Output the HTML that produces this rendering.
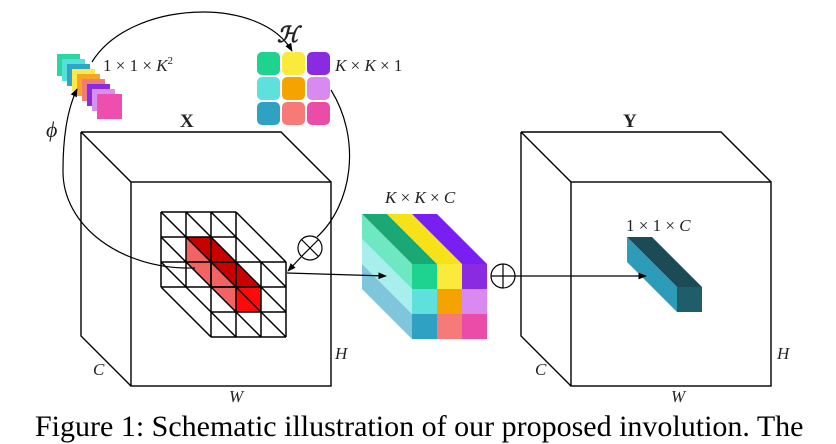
<!DOCTYPE html>
<html><head><meta charset="utf-8"><style>
body{margin:0;background:#fff;width:836px;height:444px;overflow:hidden;position:relative;font-family:"Liberation Serif",serif}
svg{position:absolute;left:0;top:0}
.cap{position:absolute;left:35px;top:410px;font-size:30px;white-space:nowrap;letter-spacing:0px}
</style></head><body>
<svg width="836" height="444" viewBox="0 0 836 444" font-family="Liberation Serif, serif">
<defs><marker id="a" viewBox="0 0 10 10" refX="9" refY="5" markerWidth="7" markerHeight="7" orient="auto"><path d="M0,1 L10,5 L0,9 z" fill="#000"/></marker></defs>
<g fill="none" stroke="#000" stroke-width="1.4">
<rect x="131" y="182" width="200" height="204"/>
<path d="M81,132 L281,132 L331,182 M81,132 L131,182 M81,132 L81,336 L131,386"/>
<rect x="571" y="182" width="200" height="204"/>
<path d="M521,132 L721,132 L771,182 M521,132 L571,182 M521,132 L521,336 L571,386"/>
</g>
<g>
<rect x="57" y="54" width="23" height="22" fill="#2bd6a0"/>
<rect x="62" y="59" width="23" height="22" fill="#55e0dc"/>
<rect x="67" y="64" width="23" height="22" fill="#2fa6c8"/>
<rect x="72" y="69" width="23" height="22" fill="#fbe84a"/>
<rect x="77" y="74" width="23" height="22" fill="#f5a623"/>
<rect x="82" y="79" width="23" height="22" fill="#f07c7a"/>
<rect x="87" y="84" width="23" height="22" fill="#8a2be2"/>
<rect x="92" y="89" width="23" height="22" fill="#d590f0"/>
<rect x="97" y="94" width="25" height="25" fill="#ee4fae"/>
</g>
<g>
<rect x="257" y="52" width="23" height="23" rx="5" fill="#1dd38f"/>
<rect x="282" y="52" width="23" height="23" rx="5" fill="#faea3c"/>
<rect x="307" y="52" width="23" height="23" rx="5" fill="#8a2be2"/>
<rect x="257" y="77" width="23" height="23" rx="5" fill="#5ee0dc"/>
<rect x="282" y="77" width="23" height="23" rx="5" fill="#f5a300"/>
<rect x="307" y="77" width="23" height="23" rx="5" fill="#d98af0"/>
<rect x="257" y="102" width="23" height="23" rx="5" fill="#2fa2c4"/>
<rect x="282" y="102" width="23" height="23" rx="5" fill="#f57a78"/>
<rect x="307" y="102" width="23" height="23" rx="5" fill="#ea4ca8"/>
</g>
<polygon points="186,237 211,237 261,287 236,287" fill="#c80000"/>
<polygon points="186,237 236,287 236,312 186,262" fill="#f26464"/>
<rect x="236" y="287" width="25" height="25" fill="#ff0a0a"/>
<g stroke="#000" stroke-width="1.5" fill="none">
<path d="M161,212 H236 M161,237 H236 M161,262 H236 M161,287 H236 M161,212 V287 M186,212 V287 M211,212 V287 M236,212 V287"/>
<path d="M211,262 H286 M211,287 H286 M211,312 H286 M211,337 H286 M211,262 V337 M236,262 V337 M261,262 V337 M286,262 V337"/>
<path d="M161,212 L211,262 M186,212 L236,262 M211,212 L261,262 M236,212 L286,262
M161,237 L211,287 M186,237 L236,287 M211,237 L261,287 M236,237 L286,287
M161,262 L211,312 M186,262 L236,312 M211,262 L261,312 M236,262 L286,312
M161,287 L211,337 M186,287 L236,337 M211,287 L261,337 M236,287 L286,337"/>
</g>
<g>
<polygon points="362,214 387,214 437,264 412,264" fill="#1aa874"/>
<polygon points="387,214 412,214 462,264 437,264" fill="#f7e21a"/>
<polygon points="412,214 437,214 487,264 462,264" fill="#7a1ff2"/>
<polygon points="362,214 412,264 412,289 362,239" fill="#6ee8c2"/>
<polygon points="362,239 412,289 412,314 362,264" fill="#a8eeec"/>
<polygon points="362,264 412,314 412,339 362,289" fill="#7fc6dc"/>
<rect x="412" y="264" width="25" height="25" fill="#1dd38f"/>
<rect x="437" y="264" width="25" height="25" fill="#faea3c"/>
<rect x="462" y="264" width="25" height="25" fill="#8a2be2"/>
<rect x="412" y="289" width="25" height="25" fill="#5ee0dc"/>
<rect x="437" y="289" width="25" height="25" fill="#f5a300"/>
<rect x="462" y="289" width="25" height="25" fill="#d98af0"/>
<rect x="412" y="314" width="25" height="25" fill="#2fa2c4"/>
<rect x="437" y="314" width="25" height="25" fill="#f57a78"/>
<rect x="462" y="314" width="25" height="25" fill="#ea4ca8"/>
</g>
<polygon points="627,237 652,237 702,287 677,287" fill="#1c4a56"/>
<polygon points="627,237 677,287 677,312 627,262" fill="#2e9cb8"/>
<rect x="677" y="287" width="25" height="25" fill="#1f5d6a"/>
<g fill="none" stroke="#000" stroke-width="1.2">
<path d="M195,268 C120,270 62,225 63,170 C63,135 68,108 77,89" marker-end="url(#a)"/>
<path d="M92,62 C130,0 260,-5 292,51" marker-end="url(#a)"/>
<path d="M331,90 C362,140 352,205 317,237"/>
<path d="M302,256 L288,271" marker-end="url(#a)"/>
<path d="M287,273 L386,276" marker-end="url(#a)"/>
<path d="M515,276 L646,276" marker-end="url(#a)"/>
<circle cx="310" cy="248" r="12"/>
<path d="M301.5,239.5 L318.5,256.5 M318.5,239.5 L301.5,256.5"/>
<circle cx="503" cy="276" r="12"/>
<path d="M491,276 H515 M503,264 V288"/>
</g>
<g font-size="17" fill="#222">
<text x="103" y="71">1 × 1 × <tspan font-style="italic">K</tspan><tspan font-size="11" dy="-7">2</tspan></text>
<text x="335" y="71"><tspan font-style="italic">K</tspan> × <tspan font-style="italic">K</tspan> × 1</text>
<text x="385" y="203"><tspan font-style="italic">K</tspan> × <tspan font-style="italic">K</tspan> × <tspan font-style="italic">C</tspan></text>
<text x="626" y="231">1 × 1 × <tspan font-style="italic">C</tspan></text>
<text x="277" y="42" font-size="22" font-style="italic" font-weight="bold">ℋ</text>
<text x="180" y="127" font-size="19" font-weight="bold">X</text>
<text x="623" y="127" font-size="19" font-weight="bold">Y</text>
<text x="46" y="137" font-size="22" font-style="italic">ϕ</text>
<text x="335" y="359" font-size="17" font-style="italic">H</text>
<text x="93" y="375" font-size="17" font-style="italic">C</text>
<text x="229" y="402" font-size="17" font-style="italic">W</text>
<text x="777" y="359" font-size="17" font-style="italic">H</text>
<text x="535" y="375" font-size="17" font-style="italic">C</text>
<text x="671" y="402" font-size="17" font-style="italic">W</text>
</g>
</svg>
<div class="cap">Figure 1: Schematic illustration of our proposed involution. The</div>
</body></html>
